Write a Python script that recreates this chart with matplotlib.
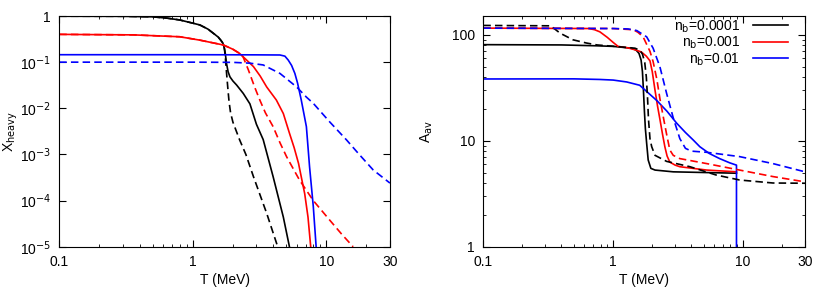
import matplotlib.pyplot as plt
from matplotlib.ticker import FixedLocator, FixedFormatter, LogLocator, NullFormatter

plt.rcParams['font.family'] = ['Liberation Sans', 'DejaVu Sans']
plt.rcParams['font.size'] = 10

# left panel: X_heavy vs T (MeV)
bk_sol_T = [0.1, 0.3, 0.5, 0.64, 0.8, 1.0, 1.13, 1.3, 1.43, 1.55, 1.62, 1.68, 1.72, 1.75, 1.79, 1.84, 1.9,
            2.0, 2.13, 2.39, 2.68, 3.0, 3.37, 4.0, 4.77, 5.3]
bk_sol_X = [0.99, 0.985, 0.96, 0.9, 0.82, 0.7, 0.64, 0.52, 0.42, 0.35, 0.30, 0.26, 0.21, 0.16, 0.094, 0.062, 0.048,
            0.039, 0.032, 0.021, 0.0125, 4.5e-3, 2.1e-3, 3.3e-4, 4.4e-5, 1e-5]
bk_das_T = [0.1, 0.3, 0.5, 0.64, 0.8, 1.0, 1.13, 1.3, 1.43, 1.55, 1.62, 1.68, 1.72, 1.75, 1.79, 1.83, 1.87,
            1.92, 2.0, 2.24, 2.5, 2.85, 3.58, 4.33]
bk_das_X = [0.99, 0.985, 0.96, 0.9, 0.82, 0.7, 0.64, 0.52, 0.42, 0.35, 0.30, 0.26, 0.21, 0.14, 0.06, 0.028, 0.014,
            8e-3, 5e-3, 2.1e-3, 1.0e-3, 3.3e-4, 5.3e-5, 1e-5]
rd_sol_T = [0.1, 0.36, 0.8, 1.13, 1.7, 2.0, 2.24, 2.5, 2.85, 3.2, 3.58, 4.23, 4.77, 5.3, 5.75, 6.2, 6.9, 7.3, 7.65]
rd_sol_X = [0.40, 0.39, 0.355, 0.30, 0.235, 0.19, 0.155, 0.115, 0.08, 0.05, 0.029, 0.0151, 7.7e-3, 2.9e-3,
            1.4e-3, 6.4e-4, 1.4e-4, 4.4e-5, 1e-5]
rd_das_T = [0.1, 0.36, 0.8, 1.13, 1.7, 2.0, 2.24, 2.38, 2.61, 2.92, 3.18, 3.5, 4.0, 4.5, 5.05, 6.3, 8.0, 10.6,
            13.0, 15.9]
rd_das_X = [0.40, 0.39, 0.355, 0.30, 0.235, 0.19, 0.155, 0.131, 0.068, 0.028, 0.0151, 8e-3, 4e-3, 1.8e-3, 8.9e-4,
            2.8e-4, 1.0e-4, 3.8e-5, 1.9e-5, 1e-5]
bl_sol_T = [0.1, 1.0, 3.0, 4.5, 4.9, 5.19, 5.5, 5.82, 6.1, 6.5, 7.1, 7.5, 8.0, 8.4]
bl_sol_X = [0.145, 0.145, 0.144, 0.143, 0.135, 0.111, 0.085, 0.057, 0.035, 0.0151, 4e-3, 5.4e-4, 7.4e-5, 1e-5]
bl_das_T = [0.1, 1.0, 2.0, 2.68, 3.37, 4.5, 6.0, 7.1, 8.0, 10.6, 14.2, 17.4, 22.5, 30]
bl_das_X = [0.10, 0.10, 0.099, 0.095, 0.087, 0.057, 0.029, 0.0175, 0.0128, 5.1e-3, 2.06e-3, 1.05e-3, 4.6e-4, 2.4e-4]

# right panel: A_av vs T (MeV)
bk_sol_Ta = [0.1, 0.4, 0.75, 1.0, 1.38, 1.5, 1.58, 1.64, 1.68, 1.71, 1.74, 1.77, 1.81, 1.86, 1.95, 2.1, 2.9, 8.9]
bk_sol_A = [81, 80.5, 79, 78, 75, 72, 67, 58, 45, 30, 19, 13, 9.5, 6.6, 5.5, 5.3, 5.1, 4.95]
bk_das_Ta = [0.1, 0.33, 0.39, 0.49, 0.62, 0.75, 1.03, 1.47, 1.6, 1.68, 1.75, 1.8, 1.84, 1.87, 1.92, 1.98, 2.1,
             2.58, 3.9, 6.2, 9.4, 17, 30]
bk_das_A = [123, 122, 104, 90, 84, 80.5, 78, 75, 72, 66, 55, 40, 25, 16, 10.5, 8.8, 7.3, 6.4, 5.7, 4.76, 4.27,
            4.0, 3.98]
rd_sol_Ta = [0.1, 0.65, 0.72, 0.79, 0.9, 1.0, 1.09, 1.3, 1.5, 1.65, 1.8, 1.92, 2.0, 2.1, 2.2, 2.29, 2.4, 2.5, 2.6,
             2.73, 3.0, 3.26, 5.25, 8.9]
rd_sol_A = [116, 115, 112, 107, 95, 85, 78, 75.5, 72, 69, 63, 57, 45, 30, 21, 16, 11.5, 8.8, 7.2, 6.3, 5.9, 5.7,
            5.3, 5.1]
rd_das_Ta = [0.1, 1.0, 1.43, 1.55, 1.7, 1.92, 2.03, 2.17, 2.29, 2.45, 2.58, 2.73, 2.9, 3.26, 5.25, 9.4, 17, 30]
rd_das_A = [116, 115, 112, 106, 96, 70, 56, 38, 25, 16, 11.5, 8.2, 7.3, 6.8, 6.1, 5.3, 4.6, 4.1]
bl_sol_Ta = [0.1, 0.5, 0.79, 1.0, 1.27, 1.6, 2.17, 2.6, 3.08, 3.6, 4.13, 4.65, 5.5, 6.6, 7.9, 8.9, 8.9]
bl_sol_A = [38.4, 38.5, 38, 37.5, 36, 33.5, 24, 19, 14.7, 12, 10.2, 8.8, 7.6, 6.8, 6.2, 5.9, 0.5]
bl_das_Ta = [0.1, 1.0, 1.3, 1.52, 1.81, 2.03, 2.29, 2.58, 2.9, 3.26, 3.6, 4.0, 5.25, 9.4, 17, 30]
bl_das_A = [116, 115, 114, 110, 96, 75, 50, 28, 16.5, 10.5, 8.5, 8.0, 7.8, 7.1, 6.1, 5.1]

legend_labels = [r'n$_{\rm b}$=0.0001', r'n$_{\rm b}$=0.001', r'n$_{\rm b}$=0.01']
xticks = [0.1, 1, 10, 30]
xticklabels = ['0.1', '1', '10', '30']

lw = 1.2
dash = (0, (4.5, 2.5))

fig = plt.figure(figsize=(8.3, 2.91), dpi=100)
ax1 = fig.add_axes([0.0714, 0.152, 0.3984, 0.793])
ax2 = fig.add_axes([0.5823, 0.152, 0.3876, 0.793])

ax1.plot(bk_sol_T, bk_sol_X, color='black', lw=lw)
ax1.plot(bk_das_T, bk_das_X, color='black', lw=lw, ls=dash)
ax1.plot(rd_sol_T, rd_sol_X, color='red', lw=lw)
ax1.plot(rd_das_T, rd_das_X, color='red', lw=lw, ls=dash)
ax1.plot(bl_sol_T, bl_sol_X, color='blue', lw=lw)
ax1.plot(bl_das_T, bl_das_X, color='blue', lw=lw, ls=dash)

ax2.plot(bk_sol_Ta, bk_sol_A, color='black', lw=lw, label=legend_labels[0])
ax2.plot(rd_sol_Ta, rd_sol_A, color='red', lw=lw, label=legend_labels[1])
ax2.plot(bl_sol_Ta, bl_sol_A, color='blue', lw=lw, label=legend_labels[2])
ax2.plot(bk_das_Ta, bk_das_A, color='black', lw=lw, ls=dash)
ax2.plot(rd_das_Ta, rd_das_A, color='red', lw=lw, ls=dash)
ax2.plot(bl_das_Ta, bl_das_A, color='blue', lw=lw, ls=dash)

for ax in (ax1, ax2):
    ax.set_xscale('log')
    ax.set_yscale('log')
    ax.set_xlim(0.1, 30)
    ax.xaxis.set_major_locator(FixedLocator(xticks))
    ax.xaxis.set_major_formatter(FixedFormatter(xticklabels))
    ax.xaxis.set_minor_locator(LogLocator(subs=range(2, 10)))
    ax.xaxis.set_minor_formatter(NullFormatter())
    ax.tick_params(which='both', direction='in', top=True, right=True)
    ax.tick_params(which='major', length=5)
    ax.tick_params(which='minor', length=2.5)
    ax.tick_params(axis='x', pad=6)
    ax.tick_params(axis='y', pad=6)
    ax.set_xlabel('T (MeV)', labelpad=3)

ax1.set_ylim(1e-5, 1)
yt1 = [1e-5, 1e-4, 1e-3, 1e-2, 1e-1, 1]
ax1.yaxis.set_major_locator(FixedLocator(yt1))
ax1.yaxis.set_major_formatter(FixedFormatter(
    [r'10$^{-5}$', r'10$^{-4}$', r'10$^{-3}$', r'10$^{-2}$', r'10$^{-1}$', '1']))
ax1.yaxis.set_minor_locator(FixedLocator([]))
ax1.set_ylabel(r'X$_{\rm heavy}$')
ax1.yaxis.set_label_coords(-0.12, 0.5)

ax2.set_ylim(1, 151)
ax2.yaxis.set_major_locator(FixedLocator([1, 10, 100]))
ax2.yaxis.set_major_formatter(FixedFormatter(['1', '10', '100']))
ax2.yaxis.set_minor_locator(LogLocator(subs=range(2, 10)))
ax2.yaxis.set_minor_formatter(NullFormatter())
ax2.set_ylabel(r'A$_{\rm av}$')
ax2.yaxis.set_label_coords(-0.15, 0.5)
ax2.legend(loc='upper right', bbox_to_anchor=(0.947, 0.99), frameon=False, markerfirst=False,
           handlelength=2.5, borderaxespad=0, borderpad=0, labelspacing=0.0, handletextpad=0.95,
           fontsize=10)

fig.savefig('out.png', dpi=100)
